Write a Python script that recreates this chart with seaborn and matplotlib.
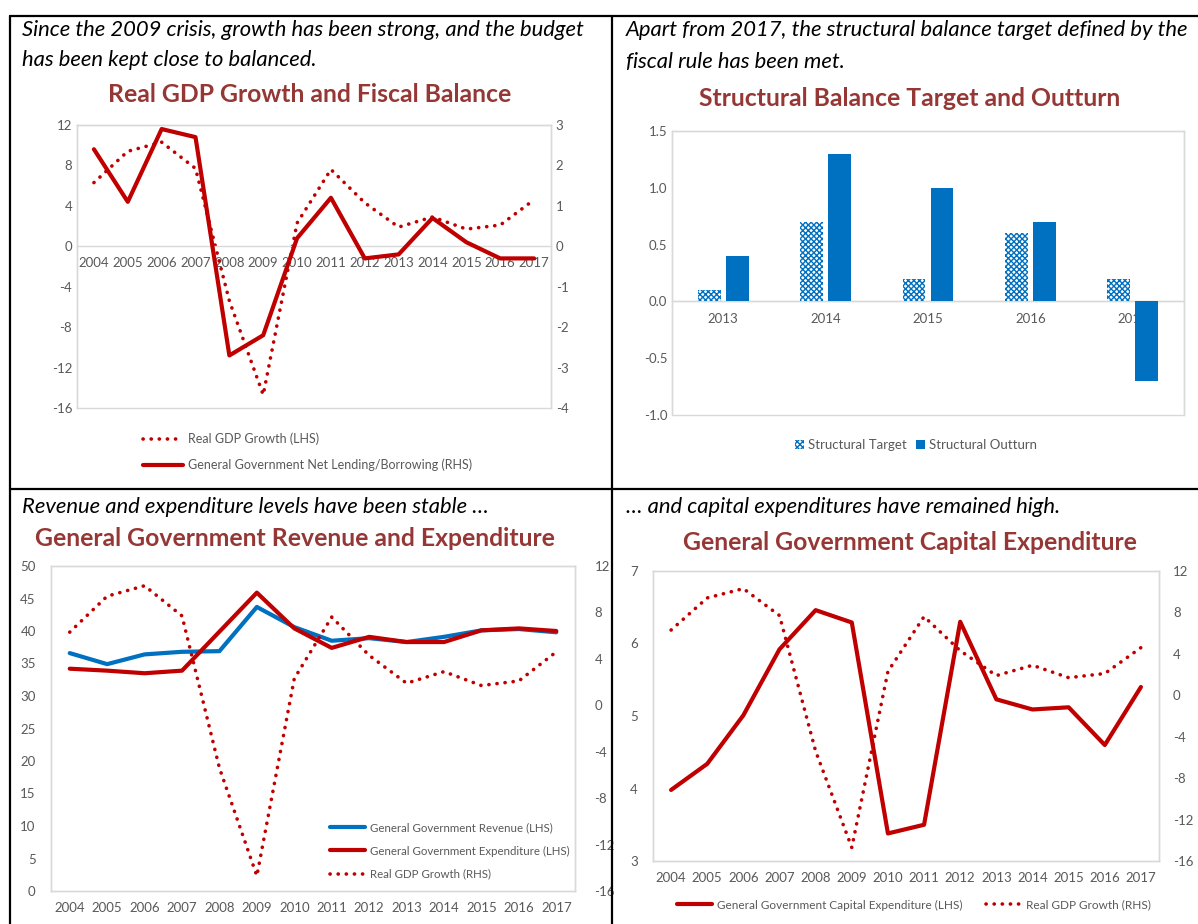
import numpy as np
import pandas as pd
import matplotlib
matplotlib.use("Agg")
import matplotlib.pyplot as plt
import seaborn as sns
from matplotlib.lines import Line2D
from matplotlib.patches import Rectangle, Patch

# ---------------- data ----------------
years = list(range(2004, 2018))
gdp_growth = [6.3, 9.4, 10.3, 7.7, -5.4, -14.7, 2.3, 7.6, 4.3, 1.9, 2.9, 1.7, 2.1, 4.6]
net_lending = [2.4, 1.1, 2.9, 2.7, -2.7, -2.2, 0.2, 1.2, -0.3, -0.2, 0.7, 0.1, -0.3, -0.3]
revenue = [36.6, 34.9, 36.4, 36.8, 36.9, 43.7, 40.6, 38.5, 38.9, 38.3, 39.1, 40.1, 40.3, 39.8]
expenditure = [34.2, 33.9, 33.5, 33.9, 39.9, 45.9, 40.4, 37.4, 39.1, 38.3, 38.3, 40.1, 40.4, 40.0]
capex = [3.98, 4.34, 5.01, 5.92, 6.46, 6.29, 3.38, 3.50, 6.30, 5.23, 5.09, 5.12, 4.60, 5.40]

sb_years = ["2013", "2014", "2015", "2016", "2017"]
sb_target = [0.1, 0.7, 0.2, 0.6, 0.2]
sb_outturn = [0.4, 1.3, 1.0, 0.7, -0.7]

# ---------------- style ----------------
RED = "#C00000"
BLUE = "#0070C0"
TITLE = "#953735"
TICK = "#595959"
FRAME = "#D9D9D9"
DOT = (0, (0.05, 2.2))

sns.set_theme(style="white")
plt.rcParams["font.family"] = ["Lato", "DejaVu Sans"]
plt.rcParams["hatch.linewidth"] = 1.0
plt.rcParams["axes.unicode_minus"] = False

W, H = 1198, 924
fig = plt.figure(figsize=(W / 100, H / 100), dpi=100)


def fx(x):
    return x / W


def fy(y):
    return 1 - y / H


def px_axes(l, t, r, b):
    return fig.add_axes([fx(l), fy(b), (r - l) / W, (b - t) / H])


def dotted(line):
    line.set_linestyle(DOT)
    line.set_dash_capstyle("round")


def frame(ax):
    for s in ax.spines.values():
        s.set_visible(True)
        s.set_color(FRAME)
        s.set_linewidth(1)
    ax.tick_params(length=0, colors=TICK, labelsize=9.5)
    ax.set_xlabel("")
    ax.set_ylabel("")


# panel borders
for (x0, y0, x1, y1) in [(10, 16, W, 16), (10, 16, 10, H), (612, 16, 612, H), (10, 489, W, 489)]:
    fig.add_artist(Line2D([fx(x0), fx(x1)], [fy(y0), fy(y1)], color="black", lw=1.6))

# subtitles and titles
sub_kw = dict(fontsize=15.8, style="italic", color="black", va="center", ha="left")
fig.text(fx(22), fy(30), "Since the 2009 crisis, growth has been strong, and the budget", **sub_kw)
fig.text(fx(22), fy(60), "has been kept close to balanced.", **sub_kw)
fig.text(fx(626), fy(30), "Apart from 2017, the structural balance target defined by the", **sub_kw)
fig.text(fx(626), fy(62), "fiscal rule has been met.", **sub_kw)
fig.text(fx(22), fy(507), "Revenue and expenditure levels have been stable \u2026", **sub_kw)
fig.text(fx(626), fy(507), "\u2026 and capital expenditures have remained high.", **sub_kw)

tit_kw = dict(fontsize=17.8, weight="bold", color=TITLE, va="center", ha="center")
fig.text(fx(310), fy(95), "Real GDP Growth and Fiscal Balance", **tit_kw)
fig.text(fx(910), fy(98), "Structural Balance Target and Outturn", **tit_kw)
fig.text(fx(295), fy(539), "General Government Revenue and Expenditure", **tit_kw)
fig.text(fx(910), fy(543), "General Government Capital Expenditure", **tit_kw)

df = pd.DataFrame({"year": years, "gdp": gdp_growth, "nl": net_lending,
                   "rev": revenue, "exp": expenditure, "capex": capex})

# ---------------- chart 1: GDP growth & fiscal balance ----------------
ax1 = px_axes(77, 125, 551, 408)
sns.lineplot(data=df, x="year", y="gdp", ax=ax1, color=RED, lw=2.6)
dotted(ax1.lines[-1])
ax1.set_xlim(2003.5, 2017.5)
ax1.set_ylim(-16, 12)
ax1.set_yticks(np.arange(-16, 13, 4))
ax1.set_xticks(years)
frame(ax1)
ax1.spines["bottom"].set_position(("data", 0))
ax1.spines["bottom"].set_color(FRAME)
ax1.tick_params(axis="x", pad=8)

ax1r = ax1.twinx()
sns.lineplot(data=df, x="year", y="nl", ax=ax1r, color=RED, lw=3)
ax1r.set_ylim(-4, 3)
ax1r.set_yticks(np.arange(-4, 4, 1))
frame(ax1r)

h1 = [Line2D([], [], color=RED, lw=2.6, ls=DOT, dash_capstyle="round"),
      Line2D([], [], color=RED, lw=3)]
fig.legend(h1, ["Real GDP Growth (LHS)", "General Government Net Lending/Borrowing (RHS)"],
           loc="center left", bbox_to_anchor=(fx(132), fy(452)), frameon=False,
           fontsize=9, labelcolor=TICK, handlelength=3.2, labelspacing=1.1, handletextpad=0.4)

# ---------------- chart 2: structural balance ----------------
ax2 = px_axes(672, 131, 1184, 415)
sb = pd.DataFrame({"year": sb_years * 2,
                   "series": ["Structural Target"] * 5 + ["Structural Outturn"] * 5,
                   "value": sb_target + sb_outturn})
sns.barplot(data=sb, x="year", y="value", hue="series", ax=ax2, saturation=1,
            palette=["white", BLUE], width=0.55, gap=0.19, legend=False, zorder=3)
for p in ax2.containers[0]:
    p.set_facecolor("white")
    p.set_edgecolor(BLUE)
    p.set_hatch("xxxxxx")
    p.set_linewidth(0)
for p in ax2.containers[1]:
    p.set_facecolor(BLUE)
    p.set_linewidth(0)
ax2.set_ylim(-1.0, 1.5)
ax2.set_yticks(np.arange(-1.0, 1.51, 0.5))
ax2.yaxis.set_major_formatter(matplotlib.ticker.FormatStrFormatter("%.1f"))
frame(ax2)
ax2.axhline(0, color=FRAME, lw=1, zorder=2)
ax2.spines["bottom"].set_position(("data", 0))
ax2.add_patch(Rectangle((0, 0), 1, 1, transform=ax2.transAxes, fill=False,
                        ec=FRAME, lw=1, clip_on=False))
ax2.tick_params(axis="x", pad=8)
h2 = [Patch(facecolor="white", edgecolor=BLUE, hatch="xxxxxx", lw=0),
      Patch(facecolor=BLUE, lw=0)]
fig.legend(h2, ["Structural Target", "Structural Outturn"], loc="center",
           bbox_to_anchor=(fx(916), fy(445)), ncol=2, frameon=False, fontsize=9.5,
           labelcolor=TICK, handlelength=0.7, handleheight=0.7, handletextpad=0.3,
           columnspacing=0.7)

# ---------------- chart 3: revenue & expenditure ----------------
ax3 = px_axes(51, 566, 575, 891)
sns.lineplot(data=df, x="year", y="rev", ax=ax3, color=BLUE, lw=3)
sns.lineplot(data=df, x="year", y="exp", ax=ax3, color=RED, lw=3)
ax3.set_xlim(2003.5, 2017.5)
ax3.set_ylim(0, 50)
ax3.set_yticks(np.arange(0, 51, 5))
ax3.set_xticks(years)
frame(ax3)
ax3.tick_params(axis="x", pad=8)
ax3.tick_params(axis="y", pad=11)

ax3r = ax3.twinx()
sns.lineplot(data=df, x="year", y="gdp", ax=ax3r, color=RED, lw=2.6)
dotted(ax3r.lines[-1])
ax3r.set_ylim(-16, 12)
ax3r.set_yticks(np.arange(-16, 13, 4))
frame(ax3r)
ax3r.tick_params(axis="y", pad=14)

h3 = [Line2D([], [], color=BLUE, lw=3), Line2D([], [], color=RED, lw=3),
      Line2D([], [], color=RED, lw=2.6, ls=DOT, dash_capstyle="round")]
fig.legend(h3, ["General Government Revenue (LHS)", "General Government Expenditure (LHS)",
                "Real GDP Growth (RHS)"],
           loc="upper left", bbox_to_anchor=(fx(320), fy(812)), frameon=False, fontsize=8.3,
           labelcolor=TICK, handlelength=3, labelspacing=1.05, handletextpad=0.4)

# ---------------- chart 4: capital expenditure ----------------
ax4 = px_axes(653, 571, 1159, 861)
sns.lineplot(data=df, x="year", y="capex", ax=ax4, color=RED, lw=3)
ax4.set_xlim(2003.5, 2017.5)
ax4.set_ylim(3, 7)
ax4.set_yticks(np.arange(3, 8, 1))
ax4.set_xticks(years)
frame(ax4)
ax4.tick_params(axis="x", pad=8)
ax4.tick_params(axis="y", pad=11)

ax4r = ax4.twinx()
sns.lineplot(data=df, x="year", y="gdp", ax=ax4r, color=RED, lw=2.6)
dotted(ax4r.lines[-1])
ax4r.set_ylim(-16, 12)
ax4r.set_yticks(np.arange(-16, 13, 4))
frame(ax4r)
ax4r.tick_params(axis="y", pad=10)

h4 = [Line2D([], [], color=RED, lw=3),
      Line2D([], [], color=RED, lw=2.6, ls=DOT, dash_capstyle="round")]
fig.legend(h4, ["General Government Capital Expenditure (LHS)", "Real GDP Growth (RHS)"],
           loc="center", bbox_to_anchor=(fx(914), fy(905)), ncol=2, frameon=False, fontsize=8.5,
           labelcolor=TICK, handlelength=3, handletextpad=0.4, columnspacing=2.0)

fig.savefig("out.png", dpi=100)
